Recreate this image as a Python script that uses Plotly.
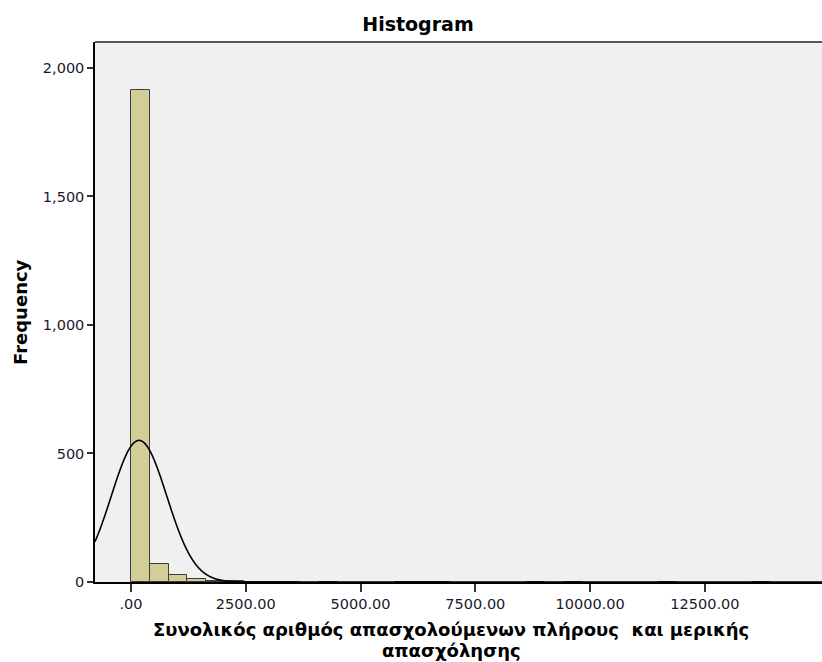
import numpy as np
import plotly.graph_objects as go

# Histogram bins (lower edge of each bin) and their frequencies
bin_width = 410
bin_lower = [0, 410, 820, 1230, 1640, 2050, 2460, 2870, 3280, 4100,
             5740, 6150, 6560, 8610, 9430, 11480, 13530]
bin_count = [1914, 70, 27, 10, 4, 2, 1, 1, 1, 1,
             1, 1, 1, 1, 1, 1, 1]

# Summary statistics used for the fitted normal curve
mean_value = 175.0
std_dev = 605.0
n_total = sum(bin_count)

x_tick_vals = [0, 2500, 5000, 7500, 10000, 12500]
x_tick_text = [".00", "2500.00", "5000.00", "7500.00", "10000.00", "12500.00"]
y_tick_vals = [0, 500, 1000, 1500, 2000]
y_tick_text = ["0", "500", "1,000", "1,500", "2,000"]

x_range = [-784, 15050]
y_range = [0, 2101]

x_title_lines = ["Συνολικός αριθμός απασχολούμενων πλήρους \u00a0και μερικής",
                 "απασχόλησης"]

bin_centers = [b + bin_width / 2 for b in bin_lower]

curve_x = np.linspace(x_range[0], x_range[1], 1600)
curve_y = (n_total * bin_width / (std_dev * np.sqrt(2 * np.pi))
           * np.exp(-0.5 * ((curve_x - mean_value) / std_dev) ** 2))

fig = go.Figure()
fig.add_trace(go.Bar(
    x=bin_centers, y=bin_count, width=[bin_width] * len(bin_count),
    marker=dict(color="#D3CE97", line=dict(color="#3c3c3c", width=1)),
    hoverinfo="x+y",
))
fig.add_trace(go.Scatter(
    x=curve_x, y=curve_y, mode="lines",
    line=dict(color="#000000", width=1.6, shape="spline"), hoverinfo="skip",
))

tick_font = dict(family="DejaVu Sans", size=14.5, color="#1a1a2e")

fig.update_layout(
    width=822, height=662,
    margin=dict(l=95, r=0, t=42, b=80),
    paper_bgcolor="#FFFFFF", plot_bgcolor="#F0F0F0",
    showlegend=False, bargap=0,
    title=dict(text="<b>Histogram</b>", x=418 / 822, xanchor="center",
               y=1 - 24 / 662, yanchor="middle", xref="container", yref="container",
               font=dict(family="DejaVu Sans", size=19, color="#000000")),
    xaxis=dict(range=x_range, tickvals=x_tick_vals, ticktext=x_tick_text,
               showgrid=False, zeroline=False, showline=True, linecolor="#000000",
               linewidth=1.5, ticks="outside", ticklen=8, tickcolor="#333333",
               tickwidth=1.5, tickfont=tick_font),
    yaxis=dict(range=y_range, tickvals=y_tick_vals, ticktext=y_tick_text,
               showgrid=False, zeroline=False, showline=True, linecolor="#000000",
               linewidth=1.5, ticks="outside", ticklen=6, tickcolor="#333333",
               tickwidth=1.5, tickfont=tick_font),
)

# Top frame of the plotting area
fig.add_shape(type="line", xref="paper", yref="paper", x0=0, x1=1, y0=1, y1=1,
              line=dict(color="#555555", width=2))

# Axis titles: the x title is set as two tightly spaced lines
for i, line_text in enumerate(x_title_lines):
    fig.add_annotation(
        text=f"<b>{line_text}</b>",
        xref="paper", yref="paper", x=0.49, y=0, yshift=-47 - 21 * i,
        xanchor="center", yanchor="middle", showarrow=False, borderpad=0,
        font=dict(family="DejaVu Sans", size=18, color="#000000"),
    )
fig.add_annotation(
    text="<b>Frequency</b>", textangle=-90,
    xref="paper", yref="paper", x=0, xshift=-75, y=0.5, xanchor="center", yanchor="middle",
    showarrow=False, font=dict(family="DejaVu Sans", size=18, color="#000000"),
)

fig.write_html("out.html")
